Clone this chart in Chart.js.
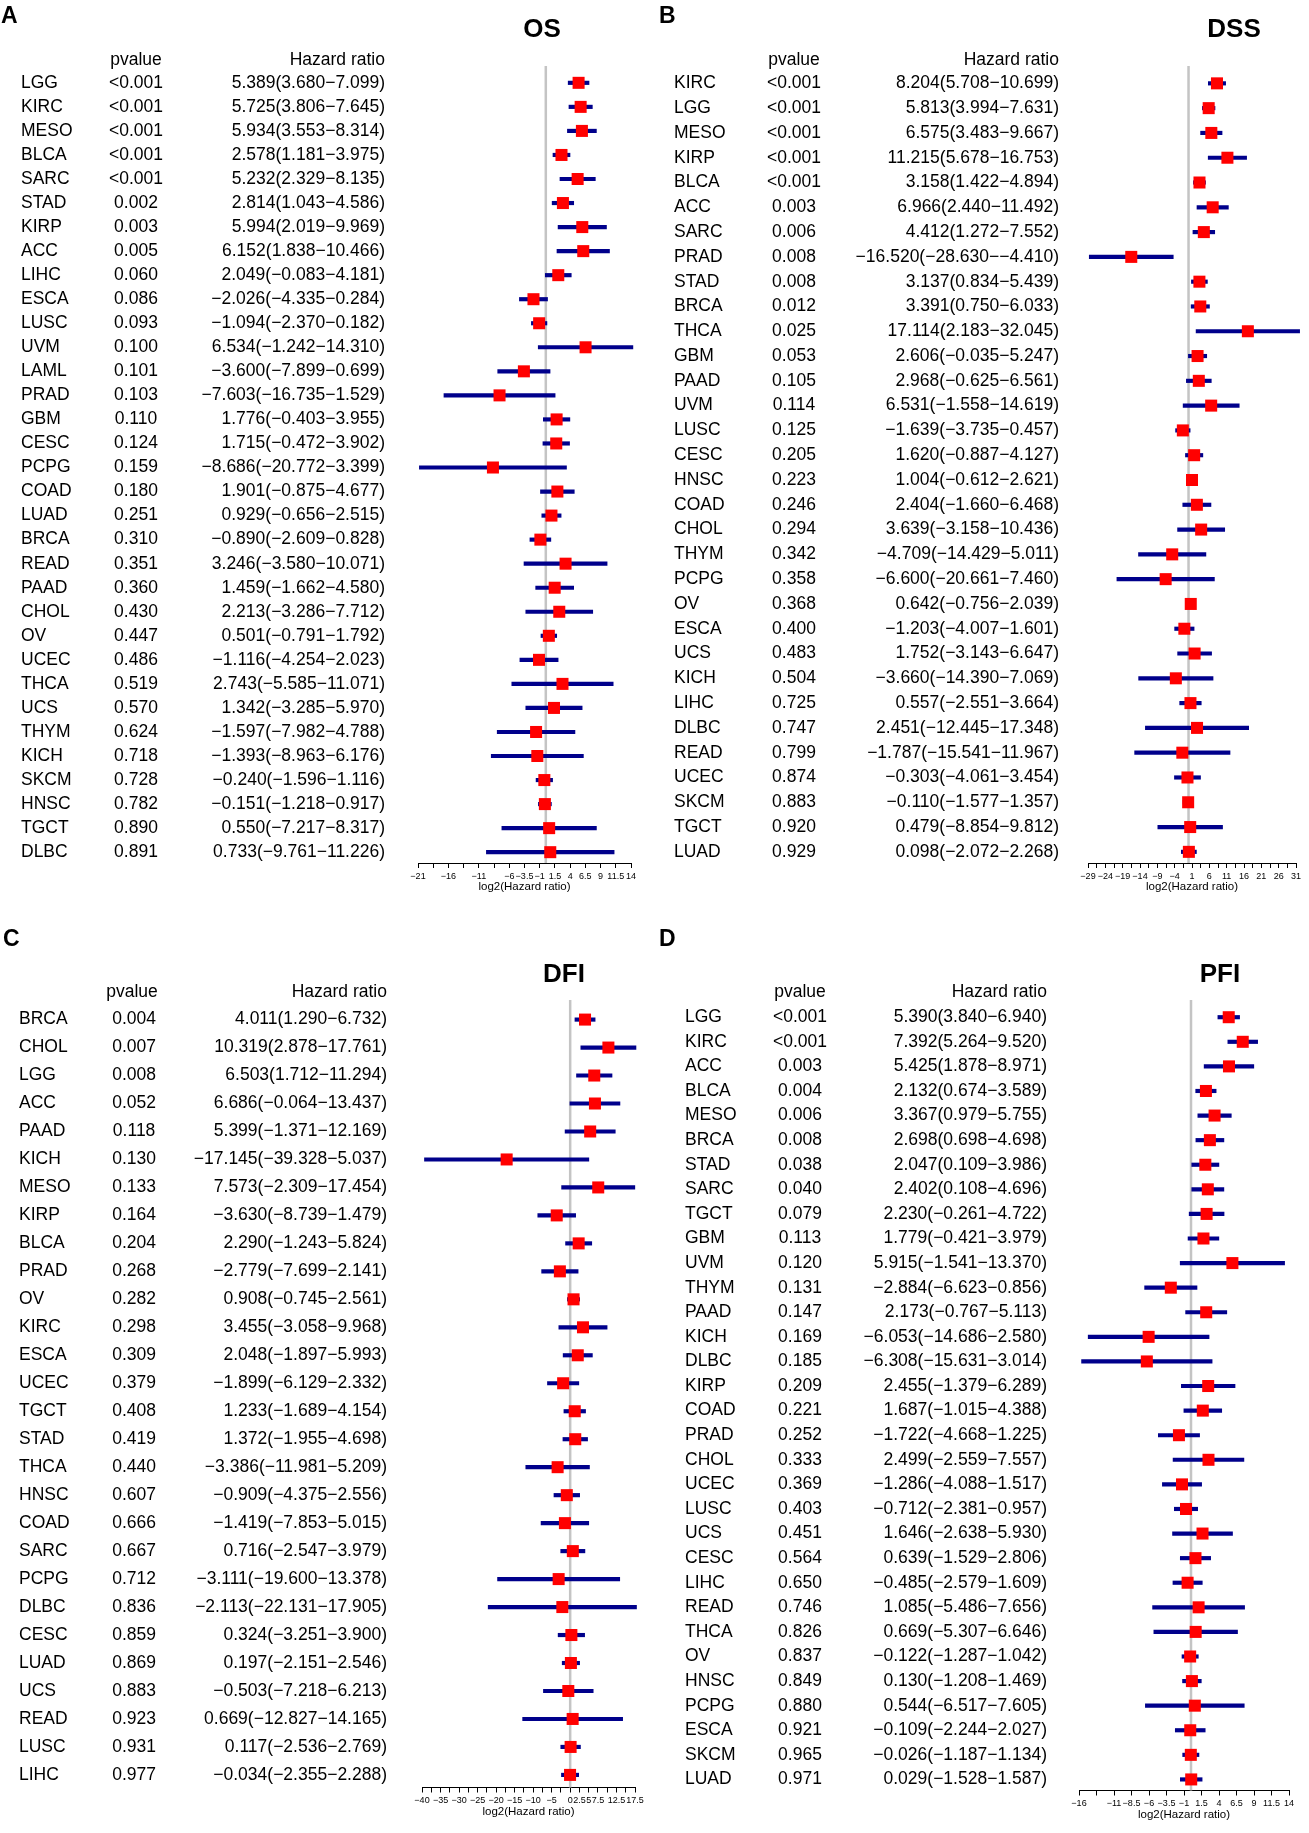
<!DOCTYPE html>
<html>
<head>
<meta charset="utf-8">
<script src="https://cdn.jsdelivr.net/npm/chart.js@4.4.1/dist/chart.umd.min.js"></script>
<style>
  body { margin: 0; background: #fff; font-family: 'Liberation Sans', Arial, sans-serif; color: #000; }
  #page { position: relative; width: 1309px; height: 1833px; overflow: hidden; background: #fff; }
  .panel { position: absolute; }
  .txt { position: absolute; white-space: nowrap; line-height: 1; }
</style>
</head>
<body>
<div id="page">
  <div class="panel" style="left:0;top:0;width:654px;height:910px"><canvas id="cOS"></canvas></div>
  <div class="panel" style="left:654px;top:0;width:655px;height:910px"><canvas id="cDSS"></canvas></div>
  <div class="panel" style="left:0;top:915px;width:654px;height:918px"><canvas id="cDFI"></canvas></div>
  <div class="panel" style="left:654px;top:915px;width:655px;height:918px"><canvas id="cPFI"></canvas></div>
</div>
<script>
/* data (log2 hazard ratio and 95% CI) */

// A - OS
const osCancer = ['LGG','KIRC','MESO','BLCA','SARC','STAD','KIRP','ACC','LIHC','ESCA','LUSC','UVM','LAML','PRAD','GBM','CESC','PCPG','COAD','LUAD','BRCA','READ','PAAD','CHOL','OV','UCEC','THCA','UCS','THYM','KICH','SKCM','HNSC','TGCT','DLBC'];
const osPval = ['<0.001','<0.001','<0.001','<0.001','<0.001','0.002','0.003','0.005','0.060','0.086','0.093','0.100','0.101','0.103','0.110','0.124','0.159','0.180','0.251','0.310','0.351','0.360','0.430','0.447','0.486','0.519','0.570','0.624','0.718','0.728','0.782','0.890','0.891'];
const osHR = [5.389,5.725,5.934,2.578,5.232,2.814,5.994,6.152,2.049,-2.026,-1.094,6.534,-3.600,-7.603,1.776,1.715,-8.686,1.901,0.929,-0.890,3.246,1.459,2.213,0.501,-1.116,2.743,1.342,-1.597,-1.393,-0.240,-0.151,0.550,0.733];
const osLow = [3.680,3.806,3.553,1.181,2.329,1.043,2.019,1.838,-0.083,-4.335,-2.370,-1.242,-7.899,-16.735,-0.403,-0.472,-20.772,-0.875,-0.656,-2.609,-3.580,-1.662,-3.286,-0.791,-4.254,-5.585,-3.285,-7.982,-8.963,-1.596,-1.218,-7.217,-9.761];
const osHigh = [7.099,7.645,8.314,3.975,8.135,4.586,9.969,10.466,4.181,0.284,0.182,14.310,0.699,1.529,3.955,3.902,3.399,4.677,2.515,0.828,10.071,4.580,7.712,1.792,2.023,11.071,5.970,4.788,6.176,1.116,0.917,8.317,11.226];
const osTicks = [-21,-18.5,-16,-13.5,-11,-8.5,-6,-3.5,-1,1.5,4,6.5,9,11.5,14];
const osTickText = ['−21','','−16','','−11','','−6','−3.5','−1','1.5','4','6.5','9','11.5','14'];

// B - DSS
const dssCancer = ['KIRC','LGG','MESO','KIRP','BLCA','ACC','SARC','PRAD','STAD','BRCA','THCA','GBM','PAAD','UVM','LUSC','CESC','HNSC','COAD','CHOL','THYM','PCPG','OV','ESCA','UCS','KICH','LIHC','DLBC','READ','UCEC','SKCM','TGCT','LUAD'];
const dssPval = ['<0.001','<0.001','<0.001','<0.001','<0.001','0.003','0.006','0.008','0.008','0.012','0.025','0.053','0.105','0.114','0.125','0.205','0.223','0.246','0.294','0.342','0.358','0.368','0.400','0.483','0.504','0.725','0.747','0.799','0.874','0.883','0.920','0.929'];
const dssHR = [8.204,5.813,6.575,11.215,3.158,6.966,4.412,-16.520,3.137,3.391,17.114,2.606,2.968,6.531,-1.639,1.620,1.004,2.404,3.639,-4.709,-6.600,0.642,-1.203,1.752,-3.660,0.557,2.451,-1.787,-0.303,-0.110,0.479,0.098];
const dssLow = [5.708,3.994,3.483,5.678,1.422,2.440,1.272,-28.630,0.834,0.750,2.183,-0.035,-0.625,-1.558,-3.735,-0.887,-0.612,-1.660,-3.158,-14.429,-20.661,-0.756,-4.007,-3.143,-14.390,-2.551,-12.445,-15.541,-4.061,-1.577,-8.854,-2.072];
const dssHigh = [10.699,7.631,9.667,16.753,4.894,11.492,7.552,-4.410,5.439,6.033,32.045,5.247,6.561,14.619,0.457,4.127,2.621,6.468,10.436,5.011,7.460,2.039,1.601,6.647,7.069,3.664,17.348,11.967,3.454,1.357,9.812,2.268];
const dssTicks = [-29,-26.5,-24,-21.5,-19,-16.5,-14,-11.5,-9,-6.5,-4,-1.5,1,3.5,6,8.5,11,13.5,16,18.5,21,23.5,26,28.5,31];
const dssTickText = ['−29','','−24','','−19','','−14','','−9','','−4','','1','','6','','11','','16','','21','','26','','31'];

// C - DFI
const dfiCancer = ['BRCA','CHOL','LGG','ACC','PAAD','KICH','MESO','KIRP','BLCA','PRAD','OV','KIRC','ESCA','UCEC','TGCT','STAD','THCA','HNSC','COAD','SARC','PCPG','DLBC','CESC','LUAD','UCS','READ','LUSC','LIHC'];
const dfiPval = ['0.004','0.007','0.008','0.052','0.118','0.130','0.133','0.164','0.204','0.268','0.282','0.298','0.309','0.379','0.408','0.419','0.440','0.607','0.666','0.667','0.712','0.836','0.859','0.869','0.883','0.923','0.931','0.977'];
const dfiHR = [4.011,10.319,6.503,6.686,5.399,-17.145,7.573,-3.630,2.290,-2.779,0.908,3.455,2.048,-1.899,1.233,1.372,-3.386,-0.909,-1.419,0.716,-3.111,-2.113,0.324,0.197,-0.503,0.669,0.117,-0.034];
const dfiLow = [1.290,2.878,1.712,-0.064,-1.371,-39.328,-2.309,-8.739,-1.243,-7.699,-0.745,-3.058,-1.897,-6.129,-1.689,-1.955,-11.981,-4.375,-7.853,-2.547,-19.600,-22.131,-3.251,-2.151,-7.218,-12.827,-2.536,-2.355];
const dfiHigh = [6.732,17.761,11.294,13.437,12.169,5.037,17.454,1.479,5.824,2.141,2.561,9.968,5.993,2.332,4.154,4.698,5.209,2.556,5.015,3.979,13.378,17.905,3.900,2.546,6.213,14.165,2.769,2.288];
const dfiTicks = [-40,-37.5,-35,-32.5,-30,-27.5,-25,-22.5,-20,-17.5,-15,-12.5,-10,-7.5,-5,-2.5,0,2.5,5,7.5,10,12.5,15,17.5];
const dfiTickText = ['−40','','−35','','−30','','−25','','−20','','−15','','−10','','−5','','0','2.5','5','7.5','','12.5','','17.5'];

// D - PFI
const pfiCancer = ['LGG','KIRC','ACC','BLCA','MESO','BRCA','STAD','SARC','TGCT','GBM','UVM','THYM','PAAD','KICH','DLBC','KIRP','COAD','PRAD','CHOL','UCEC','LUSC','UCS','CESC','LIHC','READ','THCA','OV','HNSC','PCPG','ESCA','SKCM','LUAD'];
const pfiPval = ['<0.001','<0.001','0.003','0.004','0.006','0.008','0.038','0.040','0.079','0.113','0.120','0.131','0.147','0.169','0.185','0.209','0.221','0.252','0.333','0.369','0.403','0.451','0.564','0.650','0.746','0.826','0.837','0.849','0.880','0.921','0.965','0.971'];
const pfiHR = [5.390,7.392,5.425,2.132,3.367,2.698,2.047,2.402,2.230,1.779,5.915,-2.884,2.173,-6.053,-6.308,2.455,1.687,-1.722,2.499,-1.286,-0.712,1.646,0.639,-0.485,1.085,0.669,-0.122,0.130,0.544,-0.109,-0.026,0.029];
const pfiLow = [3.840,5.264,1.878,0.674,0.979,0.698,0.109,0.108,-0.261,-0.421,-1.541,-6.623,-0.767,-14.686,-15.631,-1.379,-1.015,-4.668,-2.559,-4.088,-2.381,-2.638,-1.529,-2.579,-5.486,-5.307,-1.287,-1.208,-6.517,-2.244,-1.187,-1.528];
const pfiHigh = [6.940,9.520,8.971,3.589,5.755,4.698,3.986,4.696,4.722,3.979,13.370,0.856,5.113,2.580,3.014,6.289,4.388,1.225,7.557,1.517,0.957,5.930,2.806,1.609,7.656,6.646,1.042,1.469,7.605,2.027,1.134,1.587];
const pfiTicks = [-16,-13.5,-11,-8.5,-6,-3.5,-1,1.5,4,6.5,9,11.5,14];
const pfiTickText = ['−16','','−11','−8.5','−6','−3.5','−1','1.5','4','6.5','9','11.5','14'];

Chart.defaults.font.family = "'Liberation Sans', Arial, sans-serif";
Chart.defaults.color = '#000';

const fmt = v => (v < 0 ? '−' : '') + Math.abs(v).toFixed(3);

function forest(canvasId, cancer, pval, hr, low, high, ticks, tickText, g) {
  const n = cancer.length;
  const yMin = -0.7, yMax = n - 1 + 0.45;
  const hrText = hr.map((h, i) => `${fmt(h)}(${fmt(low[i])}−${fmt(high[i])})`);

  // text columns are just extra left axes sharing the row scale
  const textAxis = (labels, weight, width, align, pad) => ({
    type: 'linear', axis: 'y', position: 'left', weight, min: yMin, max: yMax,
    reverse: true, offset: false, bounds: 'data',
    afterBuildTicks: s => { s.ticks = labels.map((_, i) => ({ value: i })); },
    afterFit: s => { s.width = width; },
    grid: { display: false, drawTicks: false }, border: { display: false },
    ticks: { autoSkip: false, crossAlign: align, padding: pad, font: { size: 17.5 }, callback: v => labels[v] }
  });

  new Chart(document.getElementById(canvasId), {
    type: 'bar',
    data: {
      datasets: [
        { type: 'line', data: [{ x: 0, y: yMin }, { x: 0, y: yMax }], borderColor: '#c4c4c4', borderWidth: 2.5,
          pointRadius: 0, order: 3, clip: false },
        { type: 'bar', data: cancer.map((c, i) => ({ y: i, x: [low[i], high[i]] })), backgroundColor: '#00008b',
          barThickness: 3.5, order: 2, clip: false },
        { type: 'line', data: cancer.map((c, i) => ({ x: hr[i], y: i })), showLine: false, pointStyle: 'rect',
          pointRadius: 8.5, pointHoverRadius: 8.5, pointBackgroundColor: '#ff0000', pointBorderWidth: 0, order: 1, clip: false }
      ]
    },
    options: {
      indexAxis: 'y', responsive: true, maintainAspectRatio: false, animation: false, events: [],
      layout: { padding: { left: g.padLeft, right: g.padRight, top: g.padTop, bottom: g.padBottom } },
      plugins: { legend: { display: false }, tooltip: { enabled: false } },
      scales: {
        x: {
          type: 'linear', min: ticks[0], max: ticks[ticks.length - 1], bounds: 'data',
          afterBuildTicks: s => { s.ticks = ticks.map(v => ({ value: v })); },
          afterFit: s => { s.height = 31; },
          grid: { drawOnChartArea: false, drawTicks: true, tickLength: 5, color: '#000', lineWidth: 1 },
          border: { display: true, color: '#000', width: 1 },
          ticks: { autoSkip: false, maxRotation: 0, padding: 3, font: { size: 9 }, callback: (v, i) => tickText[i] },
          title: { display: true, text: 'log2(Hazard ratio)', font: { size: 11.5 }, padding: 0 }
        },
        y: { type: 'linear', display: false, min: yMin, max: yMax, reverse: true, offset: false, bounds: 'data' },
        names: textAxis(cancer, 3, g.nameW, 'far', 0),
        pv: textAxis(pval, 2, g.pvW, 'center', 0),
        hr: textAxis(hrText, 1, g.hrW, 'near', g.hrPad)
      }
    }
  });
}

forest('cOS', osCancer, osPval, osHR, osLow, osHigh, osTicks, osTickText,
  { padLeft: 21, padRight: 23, padTop: 66, padBottom: 16, nameW: 72, pvW: 70, hrW: 255, hrPad: 33 });
forest('cDSS', dssCancer, dssPval, dssHR, dssLow, dssHigh, dssTicks, dssTickText,
  { padLeft: 20, padRight: 13, padTop: 66, padBottom: 16, nameW: 77, pvW: 70, hrW: 267, hrPad: 29 });
forest('cDFI', dfiCancer, dfiPval, dfiHR, dfiLow, dfiHigh, dfiTicks, dfiTickText,
  { padLeft: 19, padRight: 19, padTop: 85, padBottom: 9, nameW: 67, pvW: 70, hrW: 266, hrPad: 35 });
forest('cPFI', pfiCancer, pfiPval, pfiHR, pfiLow, pfiHigh, pfiTicks, pfiTickText,
  { padLeft: 31, padRight: 20, padTop: 85, padBottom: 9, nameW: 72, pvW: 70, hrW: 252, hrPad: 32 });

// headers, titles and panel letters
const page = document.getElementById('page');
function put(text, x, y, align, size, bold) {
  const el = document.createElement('div');
  el.className = 'txt';
  el.textContent = text;
  el.style.left = x + 'px';
  el.style.top = y + 'px';
  el.style.fontSize = size + 'px';
  if (bold) el.style.fontWeight = 'bold';
  const tx = align === 'center' ? '-50%' : align === 'right' ? '-100%' : '0';
  el.style.transform = `translate(${tx},-50%)`;
  page.appendChild(el);
}
put('A', 1, 15, 'left', 23, true);
put('B', 659, 15, 'left', 23, true);
put('C', 3, 938, 'left', 23, true);
put('D', 659, 938, 'left', 23, true);
put('OS', 542, 28, 'center', 26, true);
put('DSS', 1234, 28, 'center', 26, true);
put('DFI', 564, 973, 'center', 26, true);
put('PFI', 1220, 973, 'center', 26, true);
put('pvalue', 136, 60, 'center', 17.5);
put('Hazard ratio', 385, 60, 'right', 17.5);
put('pvalue', 794, 60, 'center', 17.5);
put('Hazard ratio', 1059, 60, 'right', 17.5);
put('pvalue', 132, 992, 'center', 17.5);
put('Hazard ratio', 387, 992, 'right', 17.5);
put('pvalue', 800, 992, 'center', 17.5);
put('Hazard ratio', 1047, 992, 'right', 17.5);
</script>
</body>
</html>
